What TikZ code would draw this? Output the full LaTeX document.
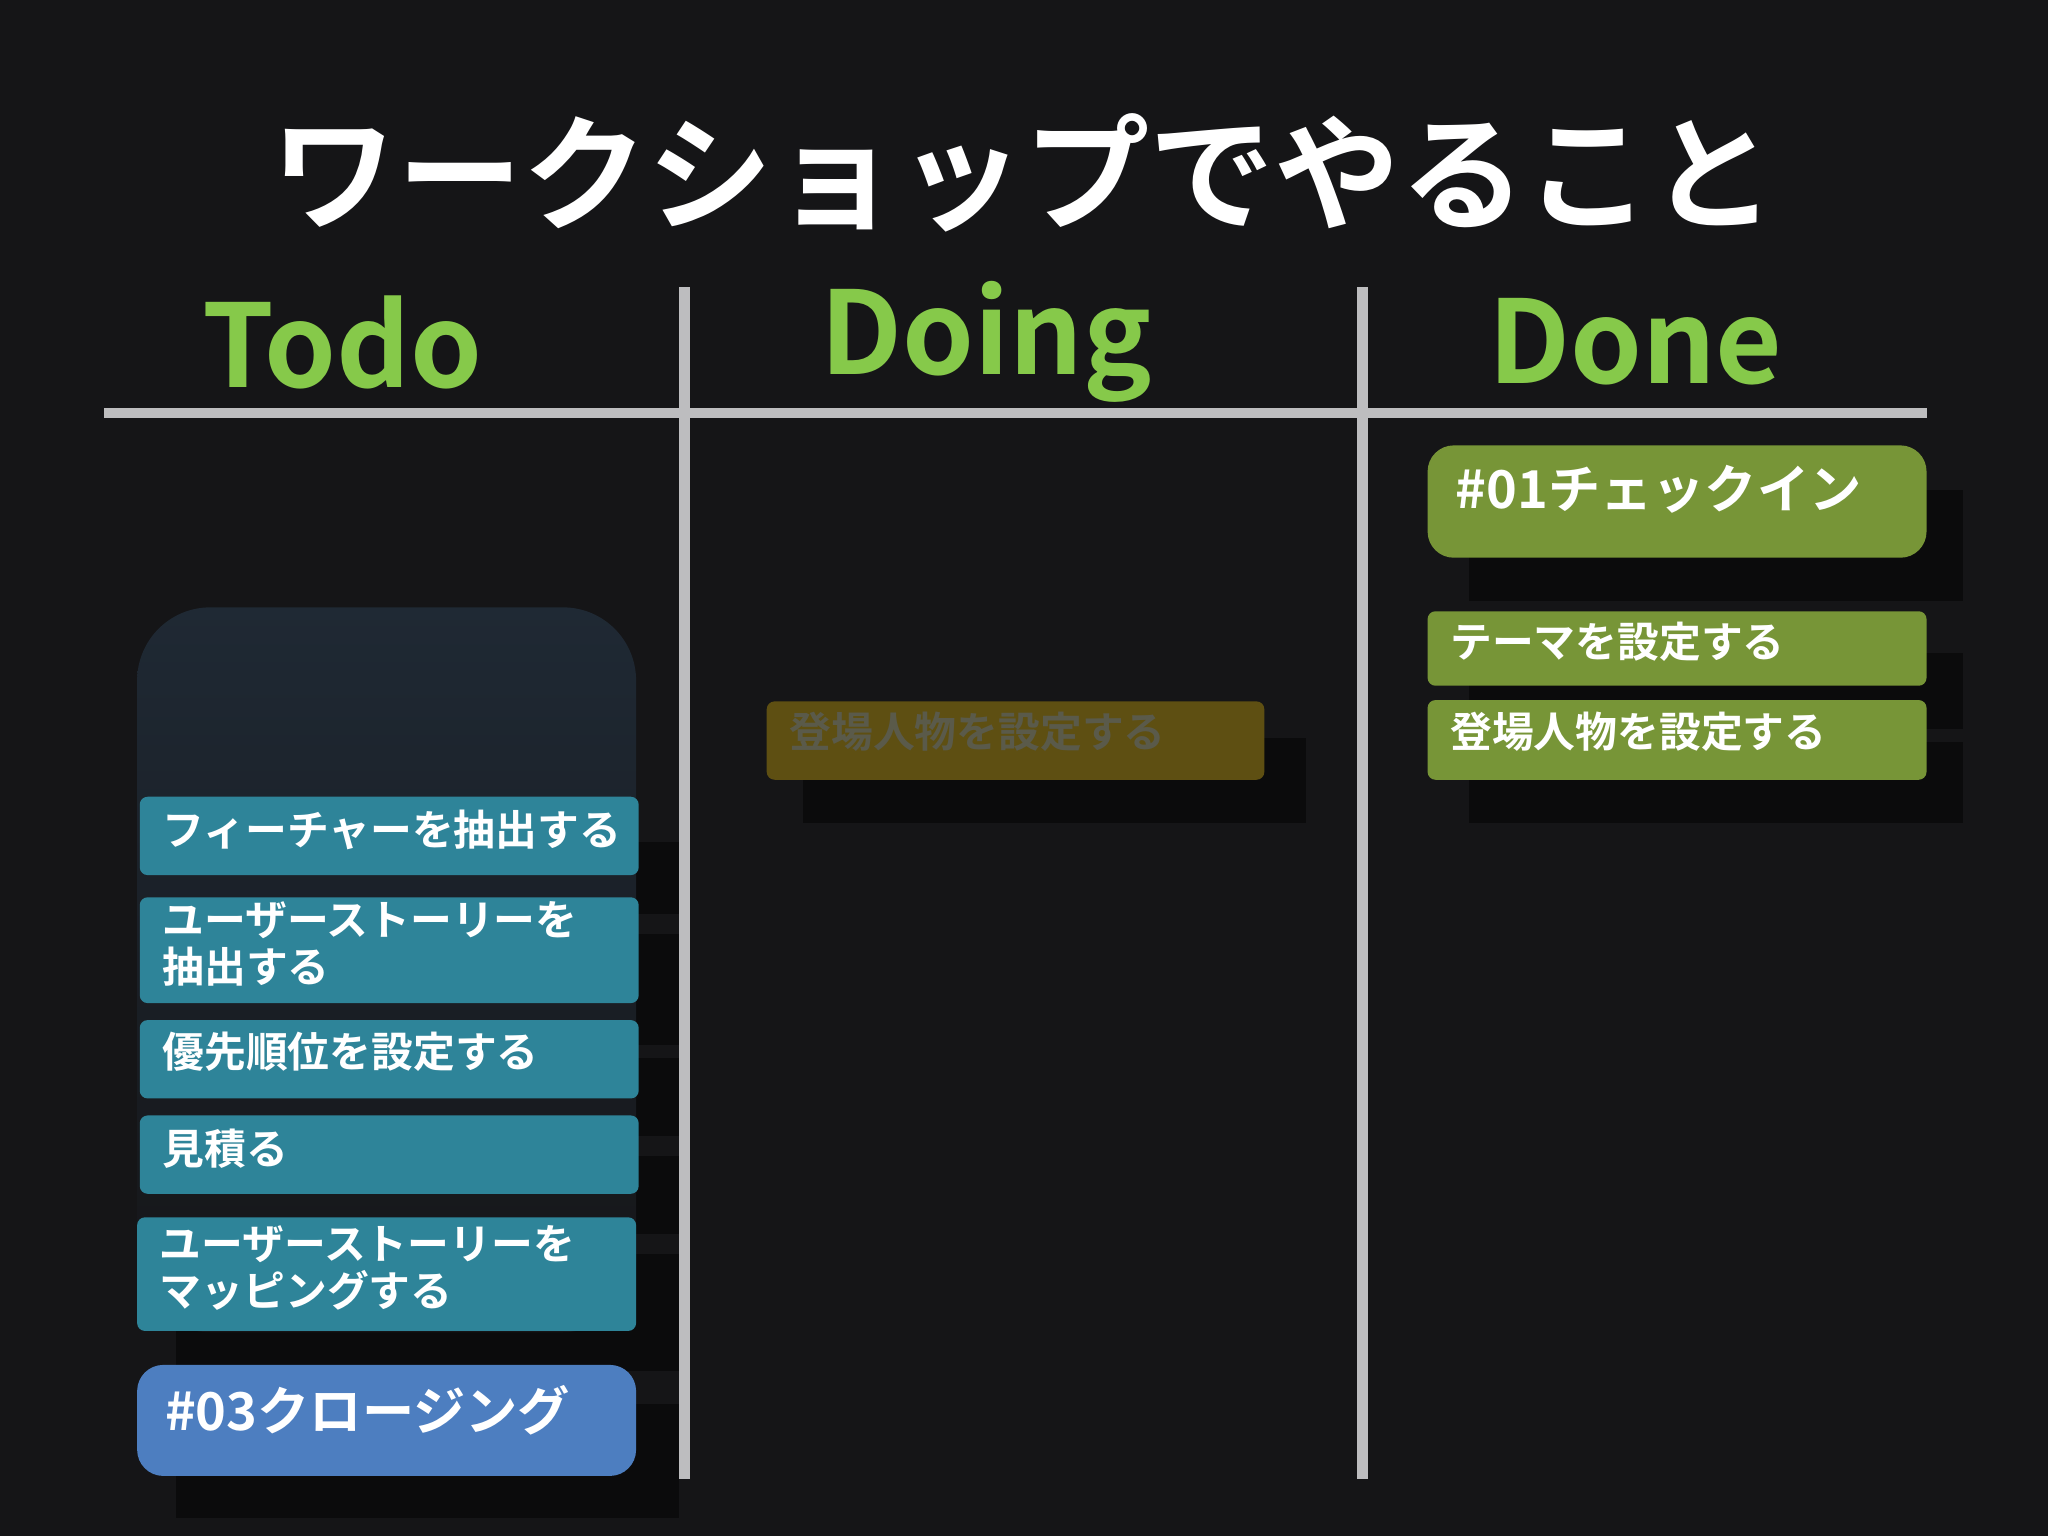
\documentclass[tikz,border=0pt]{standalone}
\usepackage{fontspec}
\setmainfont{Noto Sans CJK JP}[BoldFont={* Bold}]
\definecolor{bg}{HTML}{151517}
\definecolor{rule}{HTML}{BDBDBF}
\definecolor{hdr}{HTML}{86C94A}
\definecolor{teal}{HTML}{2E8499}
\definecolor{blu}{HTML}{4D7EC0}
\definecolor{grn}{HTML}{779537}
\definecolor{dim}{HTML}{5E4F12}
\definecolor{dimtxt}{HTML}{5A5A4A}
\definecolor{grp}{HTML}{1F2934}
\definecolor{shd}{HTML}{0B0B0C}
\tikzset{
 card/.style={anchor=north west,inner sep=0pt,text=white,font=\bfseries\fontsize{16}{18}\selectfont,align=left},
 hdrtxt/.style={text=hdr,font=\bfseries\fontsize{44}{48}\selectfont},
}
\begin{document}
\begin{tikzpicture}[x=0.5pt,y=-0.5pt]
\fill[bg] (0,0) rectangle (1568,1176);
\useasboundingbox (0,0) rectangle (1568,1176);
\node[text=white,font=\bfseries\fontsize{48}{52}\selectfont] (title) at (784,132) {ワークショップでやること};
\node[hdrtxt] (todo) at (262,262) {Todo};
\node[hdrtxt] (doing) at (755,262) {Doing};
\node[hdrtxt] (done) at (1252,262) {Done};
% shadows
\foreach \a/\b/\c/\d in {135/645/520/700, 135/715/520/800, 135/810/520/870, 135/885/520/945, 135/960/520/1050, 135/1075/520/1162, 615/565/1000/630, 1125/375/1503/460, 1125/500/1503/558, 1125/568/1503/630}
  \fill[shd] (\a,\b) rectangle (\c,\d);
\fill[rule] (80,312) rectangle (1475,320);
\fill[rule] (520,220) rectangle (528,1132);
\fill[rule] (1039,220) rectangle (1047,1132);
% todo group
\shade[rounded corners=28pt,top color=grp,bottom color=bg] (105,465) rectangle (487,1020);
\fill[teal,rounded corners=3pt] (107,610) rectangle (489,670);
\node[card] (t1) at (124,620) {フィーチャーを抽出する};
\fill[teal,rounded corners=3pt] (107,687) rectangle (489,768);
\node[card] (t2) at (124,690) {ユーザーストーリーを\\抽出する};
\fill[teal,rounded corners=3pt] (107,781) rectangle (489,841);
\node[card] (t3) at (124,790) {優先順位を設定する};
\fill[teal,rounded corners=3pt] (107,854) rectangle (489,914);
\node[card] (t4) at (124,864) {見積る};
\fill[teal,rounded corners=3pt] (105,932) rectangle (487,1019);
\node[card] (t5) at (122,938) {ユーザーストーリーを\\マッピングする};
\fill[blu,rounded corners=10pt] (105,1045) rectangle (487,1130);
\node[card,font=\bfseries\fontsize{20}{22}\selectfont] (t6) at (126,1060) {\#03クロージング};
% doing
\fill[dim,rounded corners=3pt] (587,537) rectangle (968,597);
\node[card,text=dimtxt] (d1) at (604,545) {登場人物を設定する};
% done
\fill[grn,rounded corners=10pt] (1093,341) rectangle (1475,427);
\node[card,font=\bfseries\fontsize{20}{22}\selectfont] (n1) at (1114,356) {\#01チェックイン};
\fill[grn,rounded corners=3pt] (1093,468) rectangle (1475,525);
\node[card] (n2) at (1110,476) {テーマを設定する};
\fill[grn,rounded corners=3pt] (1093,536) rectangle (1475,597);
\node[card] (n3) at (1110,545) {登場人物を設定する};
\end{tikzpicture}
\end{document}
